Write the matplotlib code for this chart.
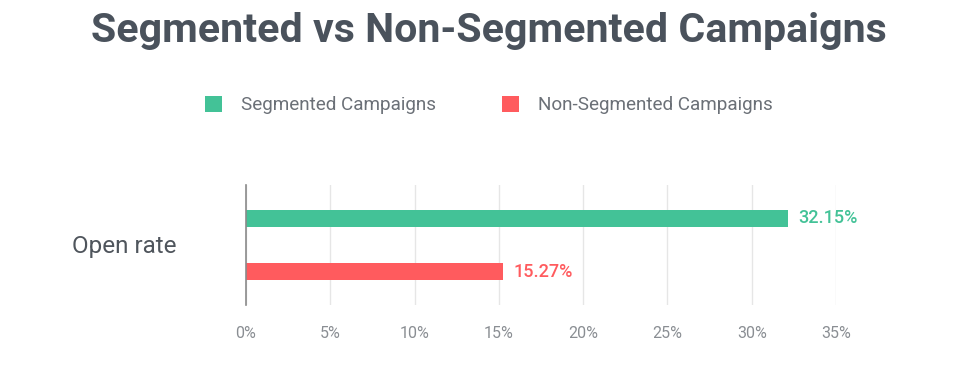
import matplotlib
matplotlib.use("Agg")
import matplotlib.pyplot as plt

plt.rcParams['font.family'] = ['Roboto', 'DejaVu Sans']

categories = ["Open rate"]
series_names = ["Segmented Campaigns", "Non-Segmented Campaigns"]
segmented = [32.15]
non_segmented = [15.27]
x_ticks = [0, 5, 10, 15, 20, 25, 30, 35]
x_tick_labels = ["0%", "5%", "10%", "15%", "20%", "25%", "30%", "35%"]

green = "#43C297"
red = "#FF5B5E"
title_color = "#4A525C"
label_color = "#8A8E93"

fig = plt.figure(figsize=(9.65, 3.78), dpi=100)
ax = fig.add_axes([246/965, 1-305/378, (836-246)/965, 120/378])

bh = 0.32
b1 = ax.barh([1], segmented, height=bh, color=green, label=series_names[0], zorder=3)
b2 = ax.barh([0], non_segmented, height=bh, color=red, label=series_names[1], zorder=3)

for v, y, c in [(segmented[0], 1, green), (non_segmented[0], 0, red)]:
    ax.text(v + 0.6, y, f"{v:.2f}%", color=c, fontsize=13, fontweight='medium',
            va='center', ha='left')

ax.set_xlim(0, 35)
ax.set_ylim(-0.632, 1.632)
ax.set_xticks(x_ticks)
ax.set_xticklabels(x_tick_labels, color=label_color, fontsize=11.5)
ax.tick_params(axis='x', length=0, pad=15)
ax.set_yticks([])
ax.grid(axis='x', color='#E6E6E6', linewidth=1, zorder=0)
for s in ['top', 'right', 'bottom']:
    ax.spines[s].set_visible(False)
ax.spines['left'].set_color('#8A8A8A')
ax.spines['left'].set_linewidth(1.2)
ax.spines['left'].set_zorder(4)

fig.text(124/965, 1-246/378, categories[0], fontsize=17.5, color='#4F555C',
         ha='center', va='center')

fig.text(489/965, 1-31/378, "Segmented vs Non-Segmented Campaigns", fontsize=29.6,
         fontweight='bold', color=title_color, ha='center', va='center')

leg = fig.legend(handles=[b1, b2], labels=series_names, loc='center left',
                 bbox_to_anchor=(188/965, 1-105/378), ncol=2, frameon=False,
                 fontsize=13.6, handlelength=0.9, handleheight=0.9,
                 columnspacing=3.5, handletextpad=1.0)
for t in leg.get_texts():
    t.set_color('#6B7077')

fig.savefig("out.png", dpi=100, facecolor='white')
